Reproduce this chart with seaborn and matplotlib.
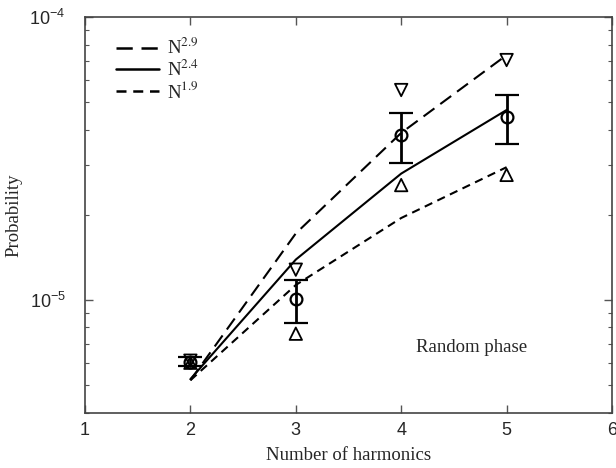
import numpy as np
import pandas as pd
import seaborn as sns
import matplotlib
matplotlib.use("Agg")
import matplotlib.pyplot as plt
from matplotlib.ticker import FixedLocator, LogLocator, NullFormatter

# ---- data ----
harmonics = [2, 3, 4, 5]
fit_n29 = [5.2e-6, 1.72e-5, 3.9e-5, 7.35e-5]
fit_n24 = [5.25e-6, 1.39e-5, 2.8e-5, 4.7e-5]
fit_n19 = [5.2e-6, 1.13e-5, 1.95e-5, 2.95e-5]
prob_mean = [6.05e-6, 1.01e-5, 3.84e-5, 4.45e-5]
prob_hi = [6.3e-6, 1.18e-5, 4.6e-5, 5.3e-5]
prob_lo = [5.85e-6, 8.3e-6, 3.05e-5, 3.56e-5]
tri_down = [6.1e-6, 1.28e-5, 5.53e-5, 7.06e-5]
tri_up = [6.0e-6, 7.6e-6, 2.55e-5, 2.77e-5]
labels = [r"N$^{2.9}$", r"N$^{2.4}$", r"N$^{1.9}$"]

sns.set_style("ticks")
plt.rcParams["mathtext.fontset"] = "stix"
plt.rcParams["font.family"] = ["Liberation Serif", "DejaVu Serif"]

fig = plt.figure(figsize=(6.16, 4.68), dpi=100)
ax = fig.add_axes([85/616, 1 - 412.5/468, (612-85)/616, (412.5-17.3)/468])

df = pd.DataFrame({
    "x": harmonics * 3,
    "y": fit_n29 + fit_n24 + fit_n19,
    "fit": [labels[0]] * 4 + [labels[1]] * 4 + [labels[2]] * 4,
})
lw = 1.5
styles = {labels[0]: (0, (6.5, 3.5)), labels[1]: "-", labels[2]: (0, (4, 2.7))}
for lab in labels:
    sub = df[df["fit"] == lab]
    sns.lineplot(data=sub, x="x", y="y", ax=ax, color="black", lw=lw,
                 linestyle=styles[lab], label=lab, legend=False)

# triangles
sns.scatterplot(x=harmonics, y=tri_down, ax=ax, marker="v", s=80,
                facecolor="none", edgecolor="black", linewidth=1.3, zorder=4)
sns.scatterplot(x=harmonics, y=tri_up, ax=ax, marker="^", s=80,
                facecolor="none", edgecolor="black", linewidth=1.3, zorder=4)

# error bars with circles
mean = np.array(prob_mean)
yerr = np.vstack([mean - np.array(prob_lo), np.array(prob_hi) - mean])
ax.errorbar(harmonics, prob_mean, yerr=yerr, fmt="o", mfc="none", mec="black",
            mew=1.6, ms=8.5, ecolor="black", elinewidth=2.0, capsize=8.6,
            capthick=2.0, color="black", zorder=5)

ax.set_yscale("log")
ax.set_xlim(1, 6)
ax.set_ylim(4e-6, 1e-4)

tick_font = {"family": ["Liberation Sans", "DejaVu Sans"], "size": 13}
ax.xaxis.set_major_locator(FixedLocator([1, 2, 3, 4, 5, 6]))
ax.set_xticklabels(["1", "2", "3", "4", "5", "6"], fontdict=tick_font)
ax.yaxis.set_major_locator(FixedLocator([1e-5, 1e-4]))
ax.yaxis.set_minor_locator(LogLocator(base=10, subs=np.arange(2, 10)))
ax.yaxis.set_minor_formatter(NullFormatter())
ax.set_yticklabels([r"$\mathregular{10^{-5}}$", r"$\mathregular{10^{-4}}$"], fontdict=tick_font)

ax.tick_params(which="both", direction="in", top=True, right=True, color="#555555")
ax.tick_params(which="major", length=6, width=1.0)
ax.tick_params(which="minor", length=3, width=0.8)
ax.tick_params(axis="x", which="major", pad=6.5)
ax.tick_params(axis="y", which="major", pad=14)
for s in ax.spines.values():
    s.set_linewidth(1.2)
    s.set_color("#444444")

ax.set_xlabel("Number of harmonics", fontsize=13.5)
ax.set_ylabel("Probability", fontsize=13.5)
ax.xaxis.set_label_coords(0.5, -0.087)
ax.yaxis.set_label_coords(-0.118, 0.5)

ax.text(4.67, 6.8e-6, "Random phase", fontsize=13.5, ha="center", va="center")

leg = ax.legend(loc="upper left", frameon=False, fontsize=13.5,
                bbox_to_anchor=(0.027, 0.99), handlelength=2.3,
                handletextpad=0.43, labelspacing=0.05)
for h in leg.get_lines():
    h.set_linewidth(1.8)

fig.savefig("out.png", dpi=100)
